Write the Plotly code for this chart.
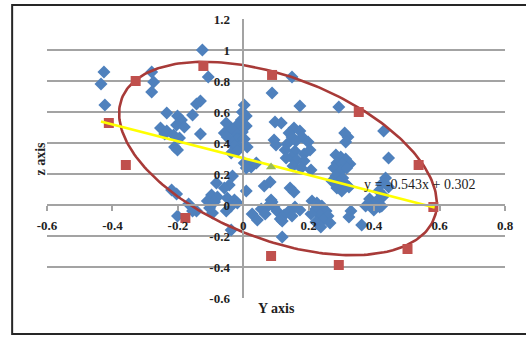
import numpy as np
import plotly.graph_objects as go

# Observed sample (Y axis value, z axis value)
obs_x = [-0.426, -0.435, -0.423, -0.280, -0.274, -0.280, -0.125, -0.107, -0.131, -0.143,
         -0.234, -0.201, -0.189, -0.204, -0.180, -0.253, -0.234, -0.240, -0.213, -0.195,
         -0.155, -0.131, -0.201, -0.210, 0.003, -0.003, 0.009, -0.006, -0.018, 0.009,
         -0.003, -0.027, -0.037, -0.052, -0.058, -0.049, -0.018, -0.033, 0.003, -0.012,
         0.012, -0.027, -0.037, -0.018, 0.003, 0.018, 0.024, 0.040, 0.009, 0.088,
         0.097, 0.094, 0.100, 0.149, 0.173, 0.292, 0.429, 0.444, 0.116, 0.155,
         0.140, 0.173, 0.149, 0.180, 0.161, 0.198, 0.134, 0.128, 0.158, 0.186,
         0.204, 0.146, 0.131, 0.164, 0.186, 0.152, 0.177, 0.207, 0.310, 0.320,
         0.313, 0.283, 0.298, 0.313, 0.286, 0.301, 0.326, 0.277, 0.298, 0.316,
         0.283, 0.304, 0.292, 0.271, 0.313, 0.286, 0.323, 0.301, 0.143, 0.155,
         0.082, -0.082, -0.043, -0.058, -0.033, -0.097, -0.079, -0.110, -0.088, -0.103,
         -0.094, -0.049, -0.027, -0.037, -0.052, -0.018, 0.009, -0.143, -0.167, -0.155,
         -0.219, -0.204, -0.201, -0.037, 0.064, 0.085, 0.094, 0.076, 0.055, 0.067,
         0.027, 0.043, 0.103, 0.113, 0.088, 0.158, 0.173, 0.125, 0.140, 0.119,
         0.149, 0.210, 0.225, 0.240, 0.222, 0.253, 0.234, 0.259, 0.243, 0.222,
         0.265, 0.237, 0.207, 0.329, 0.323, 0.374, 0.386, 0.402, 0.417, 0.399,
         0.362, 0.119, 0.435, 0.423, 0.444, 0.414, 0.429, 0.408, 0.423]
obs_y = [0.858, 0.781, 0.645, 0.858, 0.794, 0.729, 1.000, 0.826, 0.671, 0.652,
         0.594, 0.574, 0.548, 0.516, 0.503, 0.497, 0.477, 0.458, 0.452, 0.432,
         0.581, 0.458, 0.355, 0.374, 0.645, 0.600, 0.574, 0.548, 0.516, 0.510,
         0.471, 0.471, 0.497, 0.529, 0.465, 0.439, 0.426, 0.400, 0.426, 0.374,
         0.374, 0.381, 0.335, 0.348, 0.271, 0.258, 0.245, 0.271, 0.239, 0.723,
         0.535, 0.419, 0.387, 0.826, 0.639, 0.632, 0.477, 0.303, 0.529, 0.497,
         0.465, 0.477, 0.439, 0.439, 0.413, 0.406, 0.394, 0.355, 0.348, 0.329,
         0.355, 0.310, 0.303, 0.290, 0.284, 0.252, 0.239, 0.226, 0.465, 0.439,
         0.406, 0.323, 0.310, 0.297, 0.271, 0.265, 0.265, 0.239, 0.219, 0.239,
         0.187, 0.174, 0.148, 0.155, 0.135, 0.110, 0.116, 0.090, 0.110, 0.084,
         0.148, 0.142, 0.129, 0.110, 0.187, 0.065, 0.052, 0.026, 0.019, -0.019,
         -0.052, 0.045, 0.032, -0.006, -0.039, 0.013, 0.090, -0.039, 0.006, -0.039,
         0.097, 0.071, -0.071, -0.161, 0.123, 0.032, -0.013, -0.006, -0.026, -0.058,
         -0.058, -0.097, -0.039, -0.090, 0.019, -0.013, -0.032, -0.065, -0.039, -0.103,
         -0.071, 0.026, 0.013, -0.006, -0.026, -0.039, -0.065, -0.071, -0.097, -0.110,
         -0.116, -0.142, -0.058, -0.039, -0.077, -0.006, 0.039, 0.013, -0.013, -0.032,
         -0.129, -0.206, 0.174, 0.135, 0.116, 0.090, 0.058, 0.026, -0.006]

# Boundary sample points
edge_x = [-0.411, -0.329, -0.122, 0.088, 0.353, 0.536, 0.581, 0.502, 0.292, 0.085, -0.177, -0.359]
edge_y = [0.529, 0.800, 0.897, 0.839, 0.600, 0.258, -0.013, -0.284, -0.387, -0.329, -0.084, 0.258]

# Mean point
mean_x = [0.085]
mean_y = [0.245]

# Linear trend y = slope * x + intercept
slope = -0.543
intercept = 0.302
trend_span = [-0.435, 0.585]

# Ellipse: centre, semi-axes and tilt
ell_center = (0.106, 0.300)
ell_semi = (0.688, 0.390)
ell_tilt_deg = -59.3

x_tick_vals = [-0.6, -0.4, -0.2, 0, 0.2, 0.4, 0.6, 0.8]
x_tick_text = ["-0.6", "-0.4", "-0.2", "0", "0.2", "0.4", "0.6", "0.8"]
y_tick_vals = [-0.6, -0.4, -0.2, 0, 0.2, 0.4, 0.6, 0.8, 1.0, 1.2]
y_tick_text = ["-0.6", "-0.4", "-0.2", "0", "0.2", "0.4", "0.6", "0.8", "1", "1.2"]

BLUE = "#4F81BD"
RED = "#C0504D"
ELL = "#A83A38"
GRID = "#A3A3A3"
TXT = "#1E1E1E"
SERIF = "Liberation Serif"

# ellipse outline
phi = np.linspace(0, 2 * np.pi, 241)
th = np.deg2rad(ell_tilt_deg)
a, b = ell_semi
ex = ell_center[0] + a * np.cos(phi) * np.cos(th) - b * np.sin(phi) * np.sin(th)
ey = ell_center[1] + a * np.cos(phi) * np.sin(th) + b * np.sin(phi) * np.cos(th)

tx = np.array(trend_span)
ty = slope * tx + intercept

fig = go.Figure()
fig.add_trace(go.Scatter(x=obs_x, y=obs_y, mode="markers",
                         marker=dict(symbol="diamond", size=10, color=BLUE, line=dict(width=0)),
                         hoverinfo="x+y"))
fig.add_trace(go.Scatter(x=ex, y=ey, mode="lines", line=dict(color=ELL, width=2.6),
                         hoverinfo="skip"))
fig.add_trace(go.Scatter(x=edge_x, y=edge_y, mode="markers",
                         marker=dict(symbol="square", size=10, color=RED, line=dict(width=0))))
fig.add_trace(go.Scatter(x=tx, y=ty, mode="lines", line=dict(color="#FFFF00", width=2.6),
                         hoverinfo="skip"))
fig.add_trace(go.Scatter(x=mean_x, y=mean_y, mode="markers",
                         marker=dict(symbol="triangle-up", size=9, color="#9BBB59", line=dict(width=0))))

fig.update_layout(
    width=526, height=338,
    margin=dict(l=47, r=19, t=18, b=40),
    paper_bgcolor="white", plot_bgcolor="white",
    showlegend=False,
    xaxis=dict(range=[-0.6, 0.8], tickvals=x_tick_vals, ticktext=x_tick_text,
               anchor="free", position=1 / 3,
               showline=True, linecolor=GRID, linewidth=1.5,
               ticks="outside", ticklen=5, tickcolor=GRID, tickwidth=1.5,
               showgrid=False, zeroline=False, ticklabelstandoff=4,
               tickfont=dict(family=SERIF, size=13, color=TXT, weight="bold")),
    yaxis=dict(range=[-0.6, 1.2], tickvals=y_tick_vals, ticktext=y_tick_text,
               anchor="free", position=0.6 / 1.4,
               showline=True, linecolor=GRID, linewidth=1.5,
               showgrid=True, gridcolor=GRID, gridwidth=1.5,
               zeroline=False, ticks="", ticklabelstandoff=10,
               tickfont=dict(family=SERIF, size=13, color=TXT, weight="bold")),
    annotations=[
        dict(text="z axis", xref="paper", yref="paper", x=-0.0152, y=0.5,
             textangle=-90, showarrow=False, xanchor="center", yanchor="middle",
             font=dict(family=SERIF, size=14, color=TXT, weight="bold")),
        dict(text="Y axis", xref="paper", yref="paper", x=0.5, y=-0.0393,
             showarrow=False, xanchor="center", yanchor="middle",
             font=dict(family=SERIF, size=14, color=TXT, weight="bold")),
        dict(text="y = -0.543x + 0.302", xref="x", yref="y", x=0.539, y=0.135,
             showarrow=False, xanchor="center", yanchor="middle",
             font=dict(family=SERIF, size=14, color=TXT)),
    ],
    shapes=[dict(type="rect", xref="paper", yref="paper",
                 x0=-0.0761, x1=1.1, y0=-0.1286, y1=1.05,
                 line=dict(color="#262626", width=2), fillcolor="rgba(0,0,0,0)")],
)

fig.write_html("out.html")
